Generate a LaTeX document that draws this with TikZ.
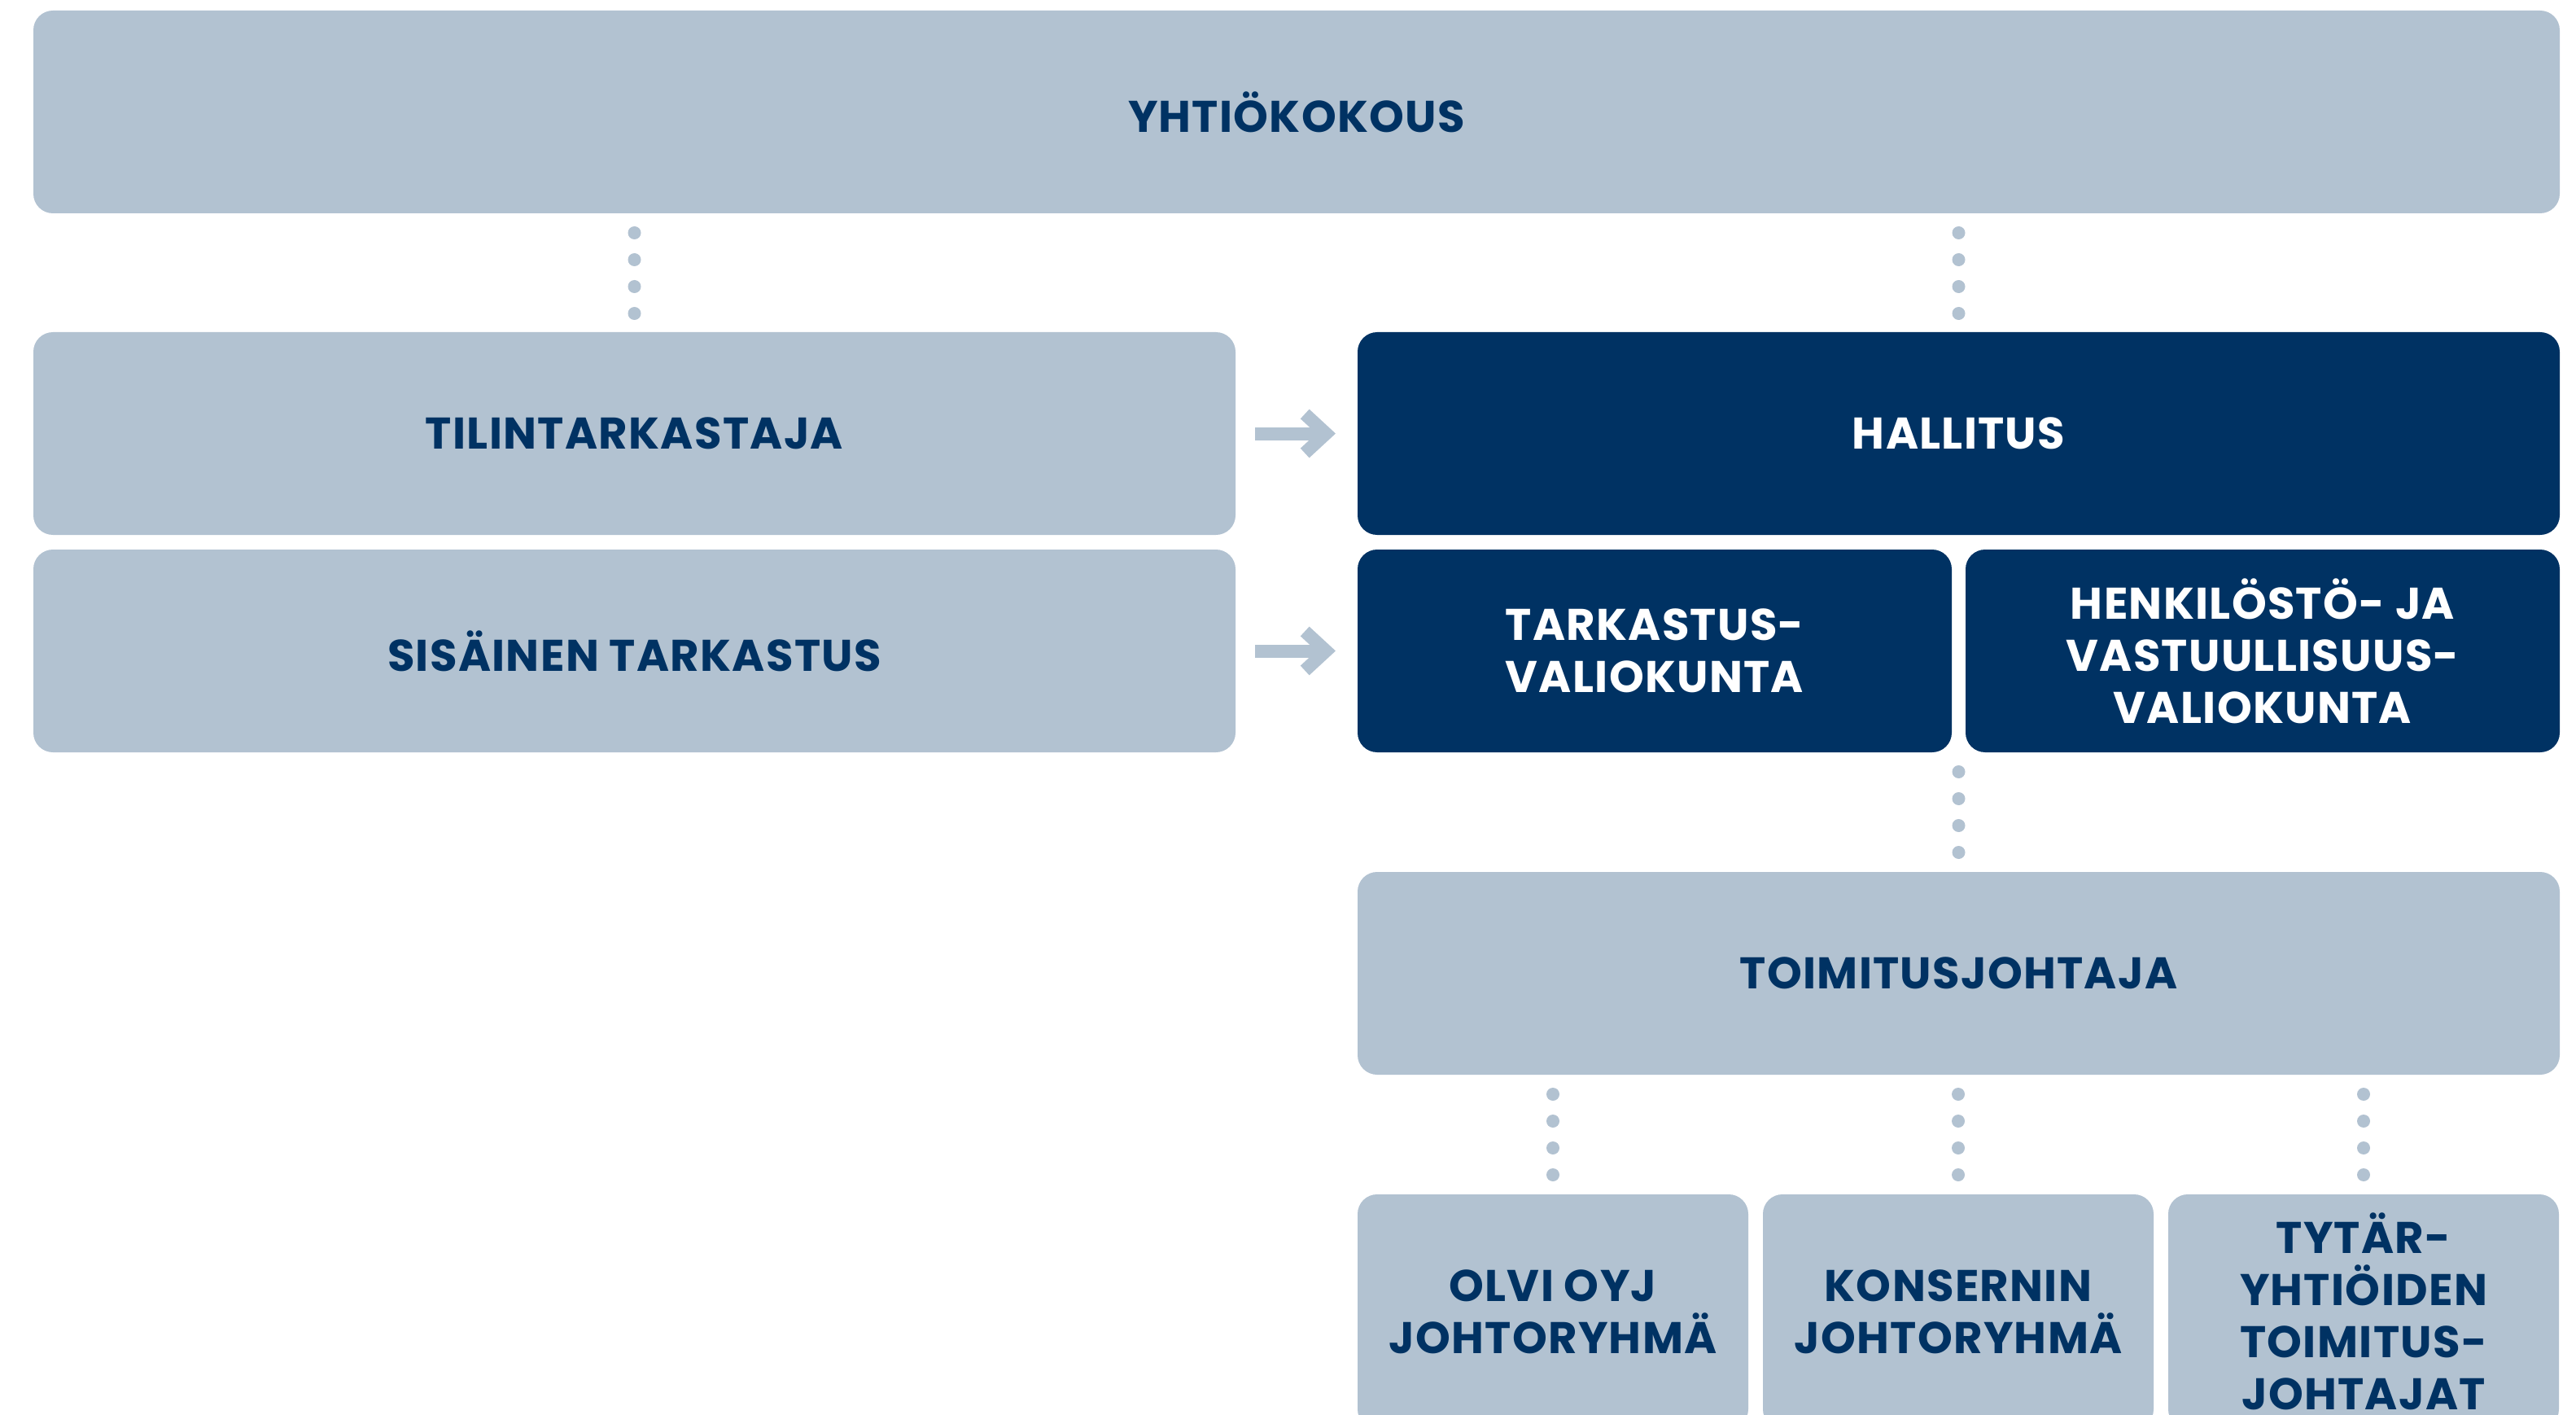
\documentclass[tikz,border=0pt]{standalone}
\usepackage{fontspec}
\setmainfont{Poppins}[LetterSpace=2.4]
\usetikzlibrary{arrows.meta,calc,positioning}
\definecolor{olvigrey}{RGB}{178,194,209}
\definecolor{olvinavy}{RGB}{0,50,99}

\begin{document}
\begin{tikzpicture}[
  every node/.style={font=\fontsize{15.5}{18.2}\selectfont\bfseries},
  box/.style={rounded corners=2.4mm,minimum height=24.9mm,inner sep=0pt,
              outer sep=0pt,align=center},
  pale/.style={box,fill=olvigrey,text=olvinavy},
  navy/.style={box,fill=olvinavy,text=white},
  half/.style={minimum width=147.7mm},
  dots/.style={olvigrey,line width=1.6mm,line cap=round,
               dash pattern=on 0pt off 3.3mm,shorten <=2.4mm,shorten >=2mm},
  arr/.style={olvigrey,line width=1.6mm,shorten <=2.4mm,shorten >=2.7mm,
              -{Straight Barb[sharp,length=2.6mm,width=4.8mm]}}
]
\useasboundingbox (0,0) rectangle (316.5mm,-173.8mm);
\clip (0,0) rectangle (316.5mm,-173.8mm);

\node[pale,minimum width=310.4mm,anchor=north west] (yk) at (4.1mm,-1.3mm)
 {YHTIÖKOKOUS};
\node[pale,half,below right=14.6mm and 0mm of yk.south west] (til)
 {TILINTARKASTAJA};
\node[navy,half,right=15mm of til] (hal) {HALLITUS};
\node[pale,half,below=1.8mm of til] (sis) {SISÄINEN TARKASTUS};
\node[navy,minimum width=73mm,below right=1.8mm and 0mm of hal.south west] (tv)
 {TARKASTUS-\\VALIOKUNTA};
\node[navy,minimum width=73mm,right=1.7mm of tv] (hv)
 {HENKILÖSTÖ- JA\\VASTUULLISUUS-\\VALIOKUNTA};
\node[pale,half,below=14.7mm of $(tv.south)!0.5!(hv.south)$] (tj)
 {TOIMITUSJOHTAJA};
\node[pale,minimum width=48mm,minimum height=28.8mm,
      below right=14.7mm and 0mm of tj.south west] (olvi)
 {OLVI OYJ\\JOHTORYHMÄ};
\node[pale,minimum width=48mm,minimum height=28.8mm,right=1.8mm of olvi] (kons)
 {KONSERNIN\\JOHTORYHMÄ};
\node[pale,minimum width=48mm,minimum height=28.8mm,right=1.8mm of kons] (tyt)
 {TYTÄR-\\YHTIÖIDEN\\TOIMITUS-\\JOHTAJAT};

% dotted links
\draw[dots] (til.north |- yk.south) -- (til.north);
\draw[dots] (hal.north |- yk.south) -- (hal.north);
\draw[dots] (tj.north |- tv.south) -- (tj.north);
\draw[dots] (olvi.north |- tj.south) -- (olvi.north);
\draw[dots] (kons.north |- tj.south) -- (kons.north);
\draw[dots] (tyt.north |- tj.south) -- (tyt.north);

% reporting arrows
\draw[arr] (til) -- (hal);
\draw[arr] (sis) -- (tv);
\end{tikzpicture}
\end{document}
